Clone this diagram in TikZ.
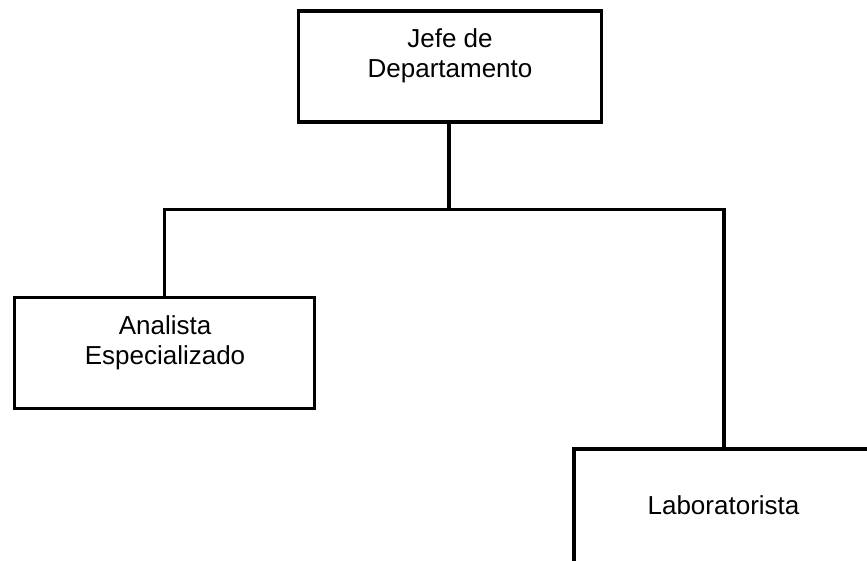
\documentclass[tikz,border=0pt]{standalone}
\usepackage{fontspec}
\setmainfont{Liberation Sans}
\begin{document}
\begin{tikzpicture}[x=1pt,y=-1pt,
  orgbox/.style={draw=black,line width=3.6pt,rectangle,inner sep=0pt},
  orgtext/.style={font=\fontsize{26}{29.5}\selectfont,align=center,inner sep=0pt,anchor=base},
  link/.style={draw=black,line width=3.6pt}]
  % page frame
  \useasboundingbox (0,0) rectangle (867,560);
  \clip (0,0) rectangle (867,560);
  \fill[white] (0,0) rectangle (867,560);

  % boxes
  \node[orgbox,minimum width=303pt,minimum height=111pt] (jefe) at (450,66.5) {};
  \node[orgbox,minimum width=300pt,minimum height=111pt] (analista) at (164.5,353) {};
  \node[orgbox,minimum width=300pt,minimum height=118pt] (lab) at (724,508) {};

  % labels (anchored at the baseline of the last line)
  \node[orgtext] (jefeT) at (450,77) {Jefe de\\Departamento};
  \node[orgtext] (analistaT) at (165,364) {Analista\\Especializado};
  \node[orgtext] (labT) at (723.5,514) {Laboratorista};

  % connectors
  \coordinate (bus) at (449,209.5);
  \draw[link] (jefe.south -| bus) -- (bus);
  \draw[link] (analista.north) |- (bus) -| (lab.north);
\end{tikzpicture}
\end{document}
